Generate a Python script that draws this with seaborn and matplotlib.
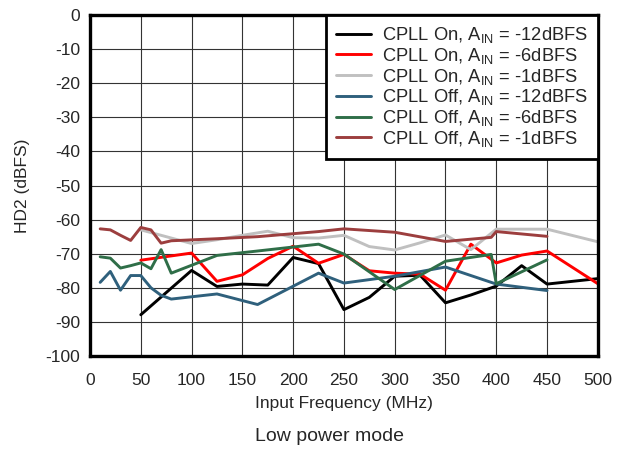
import matplotlib
matplotlib.use("Agg")
import matplotlib.pyplot as plt
import seaborn as sns

# Frequencies (MHz)
freq_on = [50, 100, 125, 150, 175, 200, 225, 250, 275, 300, 325, 350, 375, 400, 425, 450, 500]
freq_off = [10, 20, 30, 40, 50, 60, 70, 80, 125, 165, 225, 250, 300, 350, 395, 400, 450]

# HD2 (dBFS), CPLL on
on_12 = [-87.9, -74.9, -79.6, -78.9, -79.2, -71.1, -72.9, -86.4, -82.8, -76.6, -76.3, -84.4, -82.1, -79.5, -73.5, -78.9, -77.3]
on_6 = [-71.9, -69.8, -78.1, -76.2, -71.4, -67.8, -72.8, -70.2, -75.0, -75.7, -76.0, -80.7, -67.2, -72.7, -70.4, -69.2, -78.8]
on_1 = [-63.0, -67.0, -65.9, -64.6, -63.4, -65.3, -65.4, -64.6, -67.9, -68.9, -66.8, -64.5, -68.8, -62.8, -62.8, -62.8, -66.5]

# HD2 (dBFS), CPLL off
off_12 = [-78.4, -75.2, -80.7, -76.4, -76.4, -80.0, -82.2, -83.3, -81.8, -84.9, -75.7, -78.6, -76.6, -73.9, -78.4, -78.9, -80.8]
off_6 = [-70.9, -71.3, -74.2, -73.5, -72.7, -74.4, -68.8, -75.7, -70.5, -69.2, -67.2, -70.1, -80.5, -72.2, -70.2, -78.8, -71.8]
off_1 = [-62.7, -63.0, -64.6, -66.1, -62.3, -63.0, -66.9, -66.2, -65.6, -65.0, -63.5, -62.7, -63.7, -66.4, -65.2, -63.5, -64.9]

labels = [
    "CPLL On, A$_{\\mathrm{IN}}$ = -12dBFS",
    "CPLL On, A$_{\\mathrm{IN}}$ = -6dBFS",
    "CPLL On, A$_{\\mathrm{IN}}$ = -1dBFS",
    "CPLL Off, A$_{\\mathrm{IN}}$ = -12dBFS",
    "CPLL Off, A$_{\\mathrm{IN}}$ = -6dBFS",
    "CPLL Off, A$_{\\mathrm{IN}}$ = -1dBFS",
]
colors = ["#000000", "#ff0000", "#c0c0c0", "#2f607c", "#2f6e48", "#9c3e3e"]

sns.set_style("white")
plt.rcParams["font.family"] = ["Liberation Sans", "DejaVu Sans"]
plt.rcParams["mathtext.fontset"] = "custom"
plt.rcParams["mathtext.rm"] = "Liberation Sans"
plt.rcParams["mathtext.it"] = "Liberation Sans"
plt.rcParams["axes.unicode_minus"] = False

fs = 12.5

fig = plt.figure(figsize=(6.26, 4.57), dpi=100)
ax = fig.add_axes([0.1438, 0.221, 0.8112, 0.746])

series = [(freq_on, on_12), (freq_on, on_6), (freq_on, on_1),
          (freq_off, off_12), (freq_off, off_6), (freq_off, off_1)]
for (xs, ys), lab, col in zip(series, labels, colors):
    sns.lineplot(x=xs, y=ys, ax=ax, color=col, linewidth=2.1, label=lab, sort=False)

ax.set_xlim(0, 500)
ax.set_ylim(-100, 0)
ax.set_xticks(range(0, 501, 50))
ax.set_yticks(range(-100, 1, 10))
ax.grid(True, color="#333333", linewidth=0.8)
ax.tick_params(length=0, labelsize=fs)
ax.tick_params(axis="x", pad=12)
ax.tick_params(axis="y", pad=7)
for s in ax.spines.values():
    s.set_linewidth(2.4)
    s.set_color("black")

ax.set_xlabel("Input Frequency (MHz)", fontsize=fs, labelpad=6)
ax.set_ylabel("HD2 (dBFS)", fontsize=fs, labelpad=11)

leg = ax.legend(loc="upper right", borderaxespad=0, fancybox=False, fontsize=13.2,
                handlelength=1.9, handletextpad=0.6, labelspacing=0.04,
                borderpad=0.55, framealpha=1)
leg.get_frame().set_edgecolor("black")
leg.get_frame().set_linewidth(2.0)

fig.text(0.527, 0.044, "Low power mode", ha="center", va="center", fontsize=14)

fig.savefig("out.png", dpi=100)
